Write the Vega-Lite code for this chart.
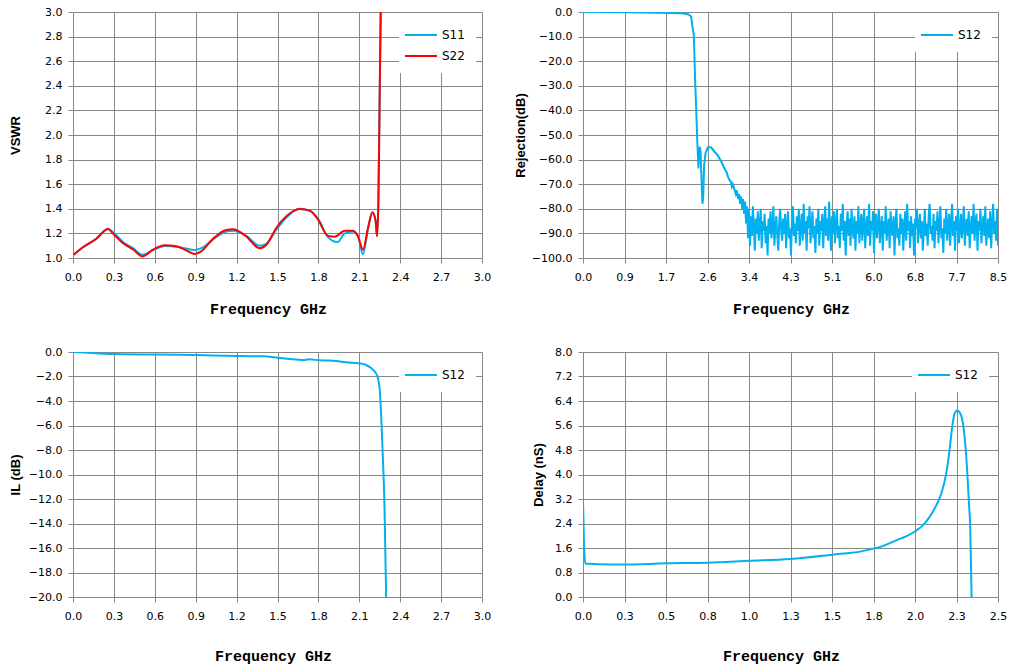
{
  "$schema": "https://vega.github.io/schema/vega-lite/v6.json",
  "description": "Filter S-parameters: VSWR, rejection, insertion loss and group delay",
  "background": "white",
  "padding": {"left": 9, "top": 6, "right": 5, "bottom": 5},
  "columns": 2,
  "align": "each",
  "spacing": {"row": 30, "column": 23},
  "resolve": {"scale": {"color": "independent"}, "legend": {"color": "independent"}},
  "config": {
    "view": {"stroke": null},
    "axis": {
      "domain": false,
      "gridColor": "#878787",
      "gridOpacity": 1,
      "tickColor": "#878787",
      "tickSize": 5,
      "labelFont": "DejaVu Sans",
      "labelFontSize": 11,
      "labelColor": "#000000",
      "titleColor": "#000000",
      "labelFlush": false,
      "labelOverlap": false
    },
    "axisX": {
      "labelPadding": 8,
      "titleFont": "Liberation Mono",
      "titleFontSize": 15,
      "titleFontWeight": "bold"
    },
    "axisY": {
      "labelPadding": 6,
      "titleFont": "Liberation Sans",
      "titleFontSize": 13,
      "titleFontWeight": "bold"
    },
    "legend": {
      "orient": "none",
      "fillColor": "white",
      "padding": 11,
      "symbolType": "M-1.6,0H1.6",
      "symbolSize": 400,
      "symbolStrokeWidth": 2,
      "labelFont": "DejaVu Sans",
      "labelFontSize": 12,
      "labelColor": "#000000",
      "labelOffset": 10,
      "rowPadding": 4
    }
  },
  "concat": [
    {
      "width": 409,
      "height": 246,
      "data": {"values": [
        {"f": 0.005, "v": 1.027, "s": "S11"}, {"f": 0.073, "v": 1.087, "s": "S11"}, {"f": 0.171, "v": 1.157, "s": "S11"},
        {"f": 0.257, "v": 1.236, "s": "S11"}, {"f": 0.293, "v": 1.21, "s": "S11"}, {"f": 0.367, "v": 1.13, "s": "S11"},
        {"f": 0.44, "v": 1.08, "s": "S11"}, {"f": 0.509, "v": 1.027, "s": "S11"}, {"f": 0.587, "v": 1.065, "s": "S11"},
        {"f": 0.672, "v": 1.098, "s": "S11"}, {"f": 0.758, "v": 1.092, "s": "S11"}, {"f": 0.819, "v": 1.08, "s": "S11"},
        {"f": 0.892, "v": 1.065, "s": "S11"}, {"f": 0.941, "v": 1.08, "s": "S11"}, {"f": 1.027, "v": 1.15, "s": "S11"},
        {"f": 1.125, "v": 1.215, "s": "S11"}, {"f": 1.174, "v": 1.222, "s": "S11"}, {"f": 1.271, "v": 1.18, "s": "S11"},
        {"f": 1.369, "v": 1.10, "s": "S11"}, {"f": 1.418, "v": 1.115, "s": "S11"}, {"f": 1.491, "v": 1.23, "s": "S11"},
        {"f": 1.565, "v": 1.33, "s": "S11"}, {"f": 1.663, "v": 1.40, "s": "S11"}, {"f": 1.736, "v": 1.385, "s": "S11"},
        {"f": 1.797, "v": 1.32, "s": "S11"}, {"f": 1.870, "v": 1.17, "s": "S11"}, {"f": 1.940, "v": 1.13, "s": "S11"},
        {"f": 1.993, "v": 1.20, "s": "S11"}, {"f": 2.054, "v": 1.215, "s": "S11"}, {"f": 2.09, "v": 1.18, "s": "S11"},
        {"f": 2.127, "v": 1.03, "s": "S11"}, {"f": 2.164, "v": 1.24, "s": "S11"}, {"f": 2.196, "v": 1.37, "s": "S11"},
        {"f": 2.22, "v": 1.30, "s": "S11"}, {"f": 2.23, "v": 1.18, "s": "S11"}, {"f": 2.24, "v": 1.46, "s": "S11"},
        {"f": 2.249, "v": 2.27, "s": "S11"}, {"f": 2.257, "v": 3.0, "s": "S11"}, {"f": 2.26, "v": 3.2, "s": "S11"},
        {"f": 0.005, "v": 1.027, "s": "S22"}, {"f": 0.073, "v": 1.087, "s": "S22"}, {"f": 0.171, "v": 1.157, "s": "S22"},
        {"f": 0.257, "v": 1.236, "s": "S22"}, {"f": 0.293, "v": 1.20, "s": "S22"}, {"f": 0.367, "v": 1.12, "s": "S22"},
        {"f": 0.44, "v": 1.07, "s": "S22"}, {"f": 0.509, "v": 1.013, "s": "S22"}, {"f": 0.587, "v": 1.068, "s": "S22"},
        {"f": 0.672, "v": 1.103, "s": "S22"}, {"f": 0.758, "v": 1.095, "s": "S22"}, {"f": 0.819, "v": 1.068, "s": "S22"},
        {"f": 0.892, "v": 1.033, "s": "S22"}, {"f": 0.941, "v": 1.054, "s": "S22"}, {"f": 1.027, "v": 1.157, "s": "S22"},
        {"f": 1.125, "v": 1.228, "s": "S22"}, {"f": 1.174, "v": 1.233, "s": "S22"}, {"f": 1.271, "v": 1.176, "s": "S22"},
        {"f": 1.369, "v": 1.079, "s": "S22"}, {"f": 1.418, "v": 1.108, "s": "S22"}, {"f": 1.491, "v": 1.244, "s": "S22"},
        {"f": 1.565, "v": 1.339, "s": "S22"}, {"f": 1.663, "v": 1.398, "s": "S22"}, {"f": 1.736, "v": 1.385, "s": "S22"},
        {"f": 1.797, "v": 1.312, "s": "S22"}, {"f": 1.870, "v": 1.18, "s": "S22"}, {"f": 1.919, "v": 1.173, "s": "S22"},
        {"f": 1.993, "v": 1.222, "s": "S22"}, {"f": 2.054, "v": 1.222, "s": "S22"}, {"f": 2.09, "v": 1.176, "s": "S22"},
        {"f": 2.127, "v": 1.068, "s": "S22"}, {"f": 2.164, "v": 1.244, "s": "S22"}, {"f": 2.196, "v": 1.371, "s": "S22"},
        {"f": 2.22, "v": 1.298, "s": "S22"}, {"f": 2.23, "v": 1.176, "s": "S22"}, {"f": 2.24, "v": 1.46, "s": "S22"},
        {"f": 2.249, "v": 2.27, "s": "S22"}, {"f": 2.257, "v": 3.0, "s": "S22"}, {"f": 2.26, "v": 3.2, "s": "S22"}
      ]},
      "mark": {"type": "line", "strokeWidth": 2, "clip": true, "interpolate": "monotone"},
      "encoding": {
        "x": {
          "field": "f", "type": "quantitative",
          "scale": {"domain": [0, 3], "nice": false},
          "axis": {"values": [0, 0.3, 0.6, 0.9, 1.2, 1.5, 1.8, 2.1, 2.4, 2.7, 3.0], "format": ".1f", "title": "Frequency GHz", "titleX": 195, "titleY": 43}
        },
        "y": {
          "field": "v", "type": "quantitative",
          "scale": {"domain": [1, 3], "nice": false, "zero": false},
          "axis": {"values": [1.0, 1.2, 1.4, 1.6, 1.8, 2.0, 2.2, 2.4, 2.6, 2.8, 3.0], "format": ".1f", "title": "VSWR", "titleX": -51}
        },
        "color": {
          "field": "s", "type": "nominal",
          "scale": {"domain": ["S11", "S22"], "range": ["#00B0F0", "#FF0000"]},
          "legend": {"title": null, "legendX": 326, "legendY": 1}
        }
      }
    },
    {
      "width": 415,
      "height": 246,
      "data": {"values": [
        {"f": 0, "v": 0}, {"f": 0.3, "v": -0.05}, {"f": 0.6, "v": -0.1}, {"f": 0.9, "v": -0.15}, {"f": 1.2, "v": -0.2},
        {"f": 1.5, "v": -0.3}, {"f": 1.8, "v": -0.4}, {"f": 2.0, "v": -0.5}, {"f": 2.1, "v": -0.7}, {"f": 2.16, "v": -1.0},
        {"f": 2.19, "v": -1.4}, {"f": 2.215, "v": -2.0}, {"f": 2.236, "v": -5.2}, {"f": 2.27, "v": -9.2}, {"f": 2.297, "v": -28},
        {"f": 2.318, "v": -39}, {"f": 2.338, "v": -51}, {"f": 2.352, "v": -57.5}, {"f": 2.365, "v": -63.6}, {"f": 2.386, "v": -54.8},
        {"f": 2.406, "v": -56}, {"f": 2.427, "v": -67.7}, {"f": 2.447, "v": -77.9}, {"f": 2.461, "v": -75.8}, {"f": 2.481, "v": -62.2},
        {"f": 2.509, "v": -57.5}, {"f": 2.556, "v": -55}, {"f": 2.624, "v": -55}, {"f": 2.693, "v": -56.8}, {"f": 2.75, "v": -58},
        {"f": 2.795, "v": -59.5}, {"f": 2.85, "v": -61.5}, {"f": 2.897, "v": -63.6}, {"f": 2.94, "v": -65}, {"f": 2.97, "v": -67},
        {"f": 3.00, "v": -68.3}, {"f": 3.03, "v": -69}, {"f": 3.05, "v": -71}, {"f": 3.07, "v": -70}, {"f": 3.10, "v": -72},
        {"f": 3.13, "v": -74}, {"f": 3.15, "v": -72.5}, {"f": 3.18, "v": -76}, {"f": 3.20, "v": -74}, {"f": 3.22, "v": -78},
        {"f": 3.24, "v": -75}, {"f": 3.26, "v": -80}, {"f": 3.28, "v": -76}, {"f": 3.30, "v": -82}, {"f": 3.32, "v": -77},
        {"f": 3.34, "v": -86}, {"f": 3.36, "v": -79}, {"f": 3.38, "v": -92},
        {"f": 3.40, "v": -80}, {"f": 3.42, "v": -95}, {"f": 3.44, "v": -83}, {"f": 3.46, "v": -91}, {"f": 3.48, "v": -79},
        {"f": 3.50, "v": -88}, {"f": 3.52, "v": -97}, {"f": 3.54, "v": -84}, {"f": 3.56, "v": -90}, {"f": 3.58, "v": -81},
        {"f": 3.60, "v": -93}, {"f": 3.62, "v": -86}, {"f": 3.64, "v": -80}, {"f": 3.66, "v": -96}, {"f": 3.68, "v": -85},
        {"f": 3.70, "v": -89}, {"f": 3.72, "v": -82}, {"f": 3.74, "v": -94}, {"f": 3.76, "v": -87}, {"f": 3.78, "v": -99},
        {"f": 3.80, "v": -84}, {"f": 3.82, "v": -90}, {"f": 3.84, "v": -81}, {"f": 3.86, "v": -92}, {"f": 3.88, "v": -86},
        {"f": 3.90, "v": -79}, {"f": 3.92, "v": -95}, {"f": 3.94, "v": -88}, {"f": 3.96, "v": -83}, {"f": 3.98, "v": -91},
        {"f": 4.00, "v": -97}, {"f": 4.02, "v": -85}, {"f": 4.04, "v": -80}, {"f": 4.06, "v": -89}, {"f": 4.08, "v": -93},
        {"f": 4.10, "v": -84}, {"f": 4.12, "v": -90}, {"f": 4.14, "v": -82}, {"f": 4.16, "v": -96}, {"f": 4.18, "v": -87},
        {"f": 4.20, "v": -81}, {"f": 4.22, "v": -92}, {"f": 4.24, "v": -88}, {"f": 4.26, "v": -99}, {"f": 4.28, "v": -85},
        {"f": 4.30, "v": -79}, {"f": 4.32, "v": -91}, {"f": 4.34, "v": -86}, {"f": 4.36, "v": -94}, {"f": 4.38, "v": -83},
        {"f": 4.40, "v": -89}, {"f": 4.42, "v": -80}, {"f": 4.44, "v": -95}, {"f": 4.46, "v": -87}, {"f": 4.48, "v": -82},
        {"f": 4.50, "v": -93}, {"f": 4.52, "v": -78}, {"f": 4.54, "v": -90}, {"f": 4.56, "v": -85}, {"f": 4.58, "v": -97},
        {"f": 4.60, "v": -83}, {"f": 4.62, "v": -88}, {"f": 4.64, "v": -79}, {"f": 4.66, "v": -94}, {"f": 4.68, "v": -86},
        {"f": 4.70, "v": -81}, {"f": 4.72, "v": -92}, {"f": 4.74, "v": -87}, {"f": 4.76, "v": -98}, {"f": 4.78, "v": -84},
        {"f": 4.80, "v": -90}, {"f": 4.82, "v": -80}, {"f": 4.84, "v": -95}, {"f": 4.86, "v": -85}, {"f": 4.88, "v": -89},
        {"f": 4.90, "v": -82}, {"f": 4.92, "v": -96}, {"f": 4.94, "v": -86}, {"f": 4.96, "v": -79}, {"f": 4.98, "v": -91},
        {"f": 5.00, "v": -84}, {"f": 5.02, "v": -93}, {"f": 5.04, "v": -77}, {"f": 5.06, "v": -88}, {"f": 5.08, "v": -97},
        {"f": 5.10, "v": -83}, {"f": 5.12, "v": -90}, {"f": 5.14, "v": -81}, {"f": 5.16, "v": -94}, {"f": 5.18, "v": -86},
        {"f": 5.20, "v": -80}, {"f": 5.22, "v": -92}, {"f": 5.24, "v": -87}, {"f": 5.26, "v": -96}, {"f": 5.28, "v": -82},
        {"f": 5.30, "v": -89}, {"f": 5.32, "v": -78}, {"f": 5.34, "v": -93}, {"f": 5.36, "v": -85}, {"f": 5.38, "v": -99},
        {"f": 5.40, "v": -86}, {"f": 5.42, "v": -81}, {"f": 5.44, "v": -91}, {"f": 5.46, "v": -84}, {"f": 5.48, "v": -95},
        {"f": 5.50, "v": -80}, {"f": 5.52, "v": -88}, {"f": 5.54, "v": -92}, {"f": 5.56, "v": -83}, {"f": 5.58, "v": -97},
        {"f": 5.60, "v": -85}, {"f": 5.62, "v": -90}, {"f": 5.64, "v": -79}, {"f": 5.66, "v": -94}, {"f": 5.68, "v": -87},
        {"f": 5.70, "v": -82}, {"f": 5.72, "v": -93}, {"f": 5.74, "v": -86}, {"f": 5.76, "v": -80}, {"f": 5.78, "v": -96},
        {"f": 5.80, "v": -88}, {"f": 5.82, "v": -83}, {"f": 5.84, "v": -91}, {"f": 5.86, "v": -78}, {"f": 5.88, "v": -95},
        {"f": 5.90, "v": -85}, {"f": 5.92, "v": -89}, {"f": 5.94, "v": -81}, {"f": 5.96, "v": -98}, {"f": 5.98, "v": -87},
        {"f": 6.00, "v": -82}, {"f": 6.02, "v": -92}, {"f": 6.04, "v": -86}, {"f": 6.06, "v": -80}, {"f": 6.08, "v": -94},
        {"f": 6.10, "v": -88}, {"f": 6.12, "v": -83}, {"f": 6.14, "v": -97}, {"f": 6.16, "v": -85}, {"f": 6.18, "v": -90},
        {"f": 6.20, "v": -79}, {"f": 6.22, "v": -93}, {"f": 6.24, "v": -87}, {"f": 6.26, "v": -84}, {"f": 6.28, "v": -96},
        {"f": 6.30, "v": -81}, {"f": 6.32, "v": -89}, {"f": 6.34, "v": -91}, {"f": 6.36, "v": -83}, {"f": 6.38, "v": -99},
        {"f": 6.40, "v": -86}, {"f": 6.42, "v": -80}, {"f": 6.44, "v": -92}, {"f": 6.46, "v": -88}, {"f": 6.48, "v": -95},
        {"f": 6.50, "v": -82}, {"f": 6.52, "v": -90}, {"f": 6.54, "v": -84}, {"f": 6.56, "v": -97}, {"f": 6.58, "v": -87},
        {"f": 6.60, "v": -81}, {"f": 6.62, "v": -93}, {"f": 6.64, "v": -78}, {"f": 6.66, "v": -89}, {"f": 6.68, "v": -85},
        {"f": 6.70, "v": -96}, {"f": 6.72, "v": -83}, {"f": 6.74, "v": -91}, {"f": 6.76, "v": -86}, {"f": 6.78, "v": -99},
        {"f": 6.80, "v": -84}, {"f": 6.82, "v": -88}, {"f": 6.84, "v": -80}, {"f": 6.86, "v": -94}, {"f": 6.88, "v": -87},
        {"f": 6.90, "v": -82}, {"f": 6.92, "v": -92}, {"f": 6.94, "v": -85}, {"f": 6.96, "v": -97}, {"f": 6.98, "v": -89},
        {"f": 7.00, "v": -80}, {"f": 7.02, "v": -91}, {"f": 7.04, "v": -86}, {"f": 7.06, "v": -95}, {"f": 7.08, "v": -83},
        {"f": 7.10, "v": -78}, {"f": 7.12, "v": -90}, {"f": 7.14, "v": -87}, {"f": 7.16, "v": -93}, {"f": 7.18, "v": -82},
        {"f": 7.20, "v": -96}, {"f": 7.22, "v": -85}, {"f": 7.24, "v": -89}, {"f": 7.26, "v": -81}, {"f": 7.28, "v": -94},
        {"f": 7.30, "v": -86}, {"f": 7.32, "v": -79}, {"f": 7.34, "v": -92}, {"f": 7.36, "v": -88}, {"f": 7.38, "v": -98},
        {"f": 7.40, "v": -84}, {"f": 7.42, "v": -90}, {"f": 7.44, "v": -80}, {"f": 7.46, "v": -93}, {"f": 7.48, "v": -87},
        {"f": 7.50, "v": -82}, {"f": 7.52, "v": -95}, {"f": 7.54, "v": -86}, {"f": 7.56, "v": -78}, {"f": 7.58, "v": -91},
        {"f": 7.60, "v": -85}, {"f": 7.62, "v": -97}, {"f": 7.64, "v": -83}, {"f": 7.66, "v": -89}, {"f": 7.68, "v": -80},
        {"f": 7.70, "v": -94}, {"f": 7.72, "v": -88}, {"f": 7.74, "v": -82}, {"f": 7.76, "v": -92}, {"f": 7.78, "v": -86},
        {"f": 7.80, "v": -79}, {"f": 7.82, "v": -95}, {"f": 7.84, "v": -87}, {"f": 7.86, "v": -84}, {"f": 7.88, "v": -91},
        {"f": 7.90, "v": -81}, {"f": 7.92, "v": -96}, {"f": 7.94, "v": -88}, {"f": 7.96, "v": -83}, {"f": 7.98, "v": -90},
        {"f": 8.00, "v": -78}, {"f": 8.02, "v": -93}, {"f": 8.04, "v": -86}, {"f": 8.06, "v": -82}, {"f": 8.08, "v": -97},
        {"f": 8.10, "v": -85}, {"f": 8.12, "v": -89}, {"f": 8.14, "v": -80}, {"f": 8.16, "v": -94}, {"f": 8.18, "v": -87},
        {"f": 8.20, "v": -83}, {"f": 8.22, "v": -91}, {"f": 8.24, "v": -79}, {"f": 8.26, "v": -95}, {"f": 8.28, "v": -88},
        {"f": 8.30, "v": -84}, {"f": 8.32, "v": -92}, {"f": 8.34, "v": -81}, {"f": 8.36, "v": -96}, {"f": 8.38, "v": -86},
        {"f": 8.40, "v": -78}, {"f": 8.42, "v": -90}, {"f": 8.44, "v": -85}, {"f": 8.46, "v": -93}, {"f": 8.48, "v": -80},
        {"f": 8.50, "v": -95}
      ]},
      "mark": {"type": "line", "strokeWidth": 2, "clip": true},
      "encoding": {
        "x": {
          "field": "f", "type": "quantitative",
          "scale": {"domain": [0, 8.5], "nice": false},
          "axis": {"values": [0, 0.85, 1.7, 2.55, 3.4, 4.25, 5.1, 5.95, 6.8, 7.65, 8.5], "labelExpr": "format(datum.value + 0.0001, '.1f')", "title": "Frequency GHz", "titleX": 208, "titleY": 43}
        },
        "y": {
          "field": "v", "type": "quantitative",
          "scale": {"domain": [-100, 0], "nice": false},
          "axis": {"values": [-100, -90, -80, -70, -60, -50, -40, -30, -20, -10, 0], "format": ".1f", "title": "Rejection(dB)", "titleX": -56}
        },
        "color": {
          "datum": "S12", "type": "nominal",
          "scale": {"domain": ["S12"], "range": ["#00B0F0"]},
          "legend": {"title": null, "legendX": 332, "legendY": 1}
        }
      }
    },
    {
      "width": 409,
      "height": 245,
      "data": {"values": [
        {"f": 0, "v": 0}, {"f": 0.24, "v": -0.14}, {"f": 0.3, "v": -0.16}, {"f": 0.9, "v": -0.25}, {"f": 1.2, "v": -0.33},
        {"f": 1.39, "v": -0.35}, {"f": 1.5, "v": -0.46}, {"f": 1.59, "v": -0.57}, {"f": 1.69, "v": -0.65}, {"f": 1.73, "v": -0.6},
        {"f": 1.81, "v": -0.68}, {"f": 1.93, "v": -0.73}, {"f": 2.0, "v": -0.84}, {"f": 2.1, "v": -0.93}, {"f": 2.15, "v": -1.06},
        {"f": 2.2, "v": -1.44}, {"f": 2.23, "v": -1.9}, {"f": 2.25, "v": -3.1}, {"f": 2.27, "v": -7.8}, {"f": 2.285, "v": -12.7},
        {"f": 2.297, "v": -20}, {"f": 2.30, "v": -21}
      ]},
      "mark": {"type": "line", "strokeWidth": 2, "clip": true, "interpolate": "monotone"},
      "encoding": {
        "x": {
          "field": "f", "type": "quantitative",
          "scale": {"domain": [0, 3], "nice": false},
          "axis": {"values": [0, 0.3, 0.6, 0.9, 1.2, 1.5, 1.8, 2.1, 2.4, 2.7, 3.0], "format": ".1f", "title": "Frequency GHz", "titleX": 200, "titleY": 51}
        },
        "y": {
          "field": "v", "type": "quantitative",
          "scale": {"domain": [-20, 0], "nice": false},
          "axis": {"values": [-20, -18, -16, -14, -12, -10, -8, -6, -4, -2, 0], "format": ".1f", "title": "IL (dB)", "titleX": -51}
        },
        "color": {
          "datum": "S12", "type": "nominal",
          "scale": {"domain": ["S12"], "range": ["#00B0F0"]},
          "legend": {"title": null, "legendX": 326, "legendY": 1}
        }
      }
    },
    {
      "width": 415,
      "height": 245,
      "data": {"values": [
        {"f": 0, "v": 3.16}, {"f": 0.006, "v": 1.74}, {"f": 0.014, "v": 1.09}, {"f": 0.095, "v": 1.07}, {"f": 0.25, "v": 1.06},
        {"f": 0.5, "v": 1.10}, {"f": 0.75, "v": 1.12}, {"f": 1.0, "v": 1.18}, {"f": 1.25, "v": 1.24}, {"f": 1.5, "v": 1.38},
        {"f": 1.675, "v": 1.49}, {"f": 1.75, "v": 1.58}, {"f": 1.805, "v": 1.66}, {"f": 1.886, "v": 1.85}, {"f": 1.946, "v": 1.98},
        {"f": 1.999, "v": 2.14}, {"f": 2.047, "v": 2.34}, {"f": 2.087, "v": 2.61}, {"f": 2.128, "v": 2.99}, {"f": 2.158, "v": 3.37},
        {"f": 2.188, "v": 4.03}, {"f": 2.208, "v": 4.79}, {"f": 2.224, "v": 5.55}, {"f": 2.238, "v": 5.98}, {"f": 2.254, "v": 6.09},
        {"f": 2.268, "v": 6.04}, {"f": 2.289, "v": 5.66}, {"f": 2.309, "v": 4.57}, {"f": 2.325, "v": 3.05}, {"f": 2.333, "v": 2.18},
        {"f": 2.337, "v": 1.09}, {"f": 2.341, "v": 0}
      ]},
      "mark": {"type": "line", "strokeWidth": 2, "clip": true, "interpolate": "monotone"},
      "encoding": {
        "x": {
          "field": "f", "type": "quantitative",
          "scale": {"domain": [0, 2.5], "nice": false},
          "axis": {"values": [0, 0.25, 0.5, 0.75, 1.0, 1.25, 1.5, 1.75, 2.0, 2.25, 2.5], "labelExpr": "format(datum.value + 0.0001, '.1f')", "title": "Frequency GHz", "titleX": 198, "titleY": 51}
        },
        "y": {
          "field": "v", "type": "quantitative",
          "scale": {"domain": [0, 8], "nice": false},
          "axis": {"values": [0, 0.8, 1.6, 2.4, 3.2, 4.0, 4.8, 5.6, 6.4, 7.2, 8.0], "format": ".1f", "title": "Delay (nS)", "titleX": -38}
        },
        "color": {
          "datum": "S12", "type": "nominal",
          "scale": {"domain": ["S12"], "range": ["#00B0F0"]},
          "legend": {"title": null, "legendX": 329, "legendY": 1}
        }
      }
    }
  ]
}
